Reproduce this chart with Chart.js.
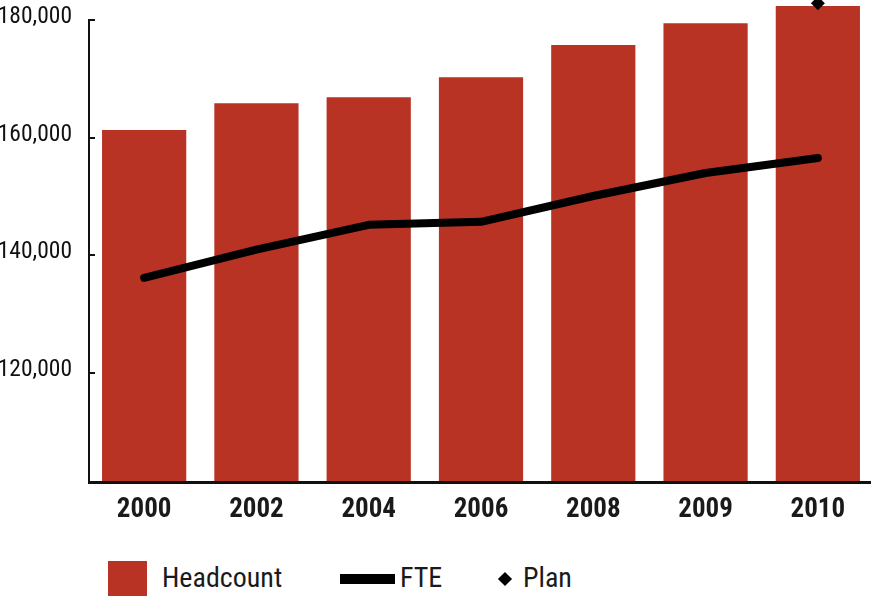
<!DOCTYPE html>
<html>
<head>
<meta charset="utf-8">
<script src="https://cdn.jsdelivr.net/npm/chart.js@4"></script>
<style>
  html, body { margin:0; padding:0; background:#fff; overflow:hidden; }
  #wrap { position:relative; width:871px; height:596px; overflow:hidden; }
  #cbox { position:absolute; left:0; top:0; width:874px; height:540px; }
  .lg { position:absolute; font-family:Roboto, sans-serif; font-stretch:condensed; font-size:28px; line-height:28px; color:#1a1a1a; white-space:nowrap; }
</style>
</head>
<body>
<div id="wrap">
  <div id="cbox"><canvas id="c"></canvas></div>
  <div style="position:absolute;left:108px;top:561px;width:39px;height:40px;background:#b83324;"></div>
  <div class="lg" style="left:162px;top:564px;">Headcount</div>
  <div style="position:absolute;left:340px;top:574px;width:55px;height:10px;background:#000;"></div>
  <div class="lg" style="left:400px;top:564px;">FTE</div>
  <div style="position:absolute;left:500px;top:574px;width:10px;height:10px;background:#000;transform:rotate(45deg);"></div>
  <div class="lg" style="left:523px;top:564px;">Plan</div>
</div>
<script>
const years = ['2000','2002','2004','2006','2008','2009','2010'];
const headcount = [161300, 165850, 166870, 170270, 175750, 179440, 182380];
const fte = [136200, 141000, 145200, 145700, 150100, 154000, 156560];
const plan = [null, null, null, null, null, null, 182840];
const yTicks = [120000, 140000, 160000, 180000];
const yMin = 101500, yMax = 183400;

const FONT = "Roboto, sans-serif";

const axesPlugin = {
  id: 'axesPlugin',
  afterDatasetsDraw(chart) {
    const ctx = chart.ctx, y = chart.scales.y, a = chart.chartArea;
    ctx.save();
    ctx.strokeStyle = '#111';
    ctx.lineWidth = 2;
    ctx.beginPath();
    ctx.moveTo(a.left + 1, y.getPixelForValue(yTicks[yTicks.length - 1]));
    ctx.lineTo(a.left + 1, a.bottom);
    ctx.stroke();
    yTicks.forEach(v => {
      const py = Math.round(y.getPixelForValue(v));
      ctx.beginPath();
      ctx.moveTo(a.left, py);
      ctx.lineTo(a.left + 7, py);
      ctx.stroke();
    });
    ctx.lineWidth = 3;
    ctx.beginPath();
    ctx.moveTo(a.left, a.bottom + 0.5);
    ctx.lineTo(chart.width, a.bottom + 0.5);
    ctx.stroke();
    ctx.restore();
  }
};

function build() {
  new Chart(document.getElementById('c'), {
    data: {
      labels: years,
      datasets: [
        { type:'line', label:'Plan', data: plan, showLine:false, pointStyle:'rectRot', pointRadius:7, pointHoverRadius:7,
          backgroundColor:'#000', borderColor:'#000', borderWidth:0, order:1, clip:false },
        { type:'line', label:'FTE', data: fte, borderColor:'#000', borderWidth:8, tension:0,
          borderCapStyle:'round', borderJoinStyle:'round', pointRadius:0, fill:false, order:2 },
        { type:'bar', label:'Headcount', data: headcount, backgroundColor:'#b83324', borderWidth:0,
          barPercentage:0.75, categoryPercentage:1.0, order:3 }
      ]
    },
    options: {
      responsive:true, maintainAspectRatio:false, animation:false,
      layout:{ padding:0, autoPadding:false },
      plugins:{ legend:{ display:false }, tooltip:{ enabled:false } },
      scales:{
        x:{
          offset:true,
          grid:{ display:false }, border:{ display:false },
          ticks:{ color:'#1a1a1a', padding:4, maxRotation:0, font:{ family:FONT, size:27, weight:'bold condensed' } },
          afterFit(s){ s.height = 58; s.paddingLeft = 0; s.paddingRight = 0; }
        },
        y:{
          min:yMin, max:yMax,
          grid:{ display:false }, border:{ display:false },
          afterBuildTicks(s){ s.ticks = yTicks.map(v => ({ value:v })); },
          ticks:{ color:'#111', padding:8, labelOffset:-3, font:{ family:FONT, size:23.5, weight:'condensed' },
            callback:(v) => v.toLocaleString('en-US') },
          afterFit(s){ s.width = 88; s.paddingTop = 0; s.paddingBottom = 0; }
        }
      }
    },
    plugins:[axesPlugin]
  });
}
Promise.all([
  document.fonts.load("condensed 24px Roboto"),
  document.fonts.load("bold condensed 27px Roboto")
]).catch(()=>{}).then(build);
</script>
</body>
</html>
